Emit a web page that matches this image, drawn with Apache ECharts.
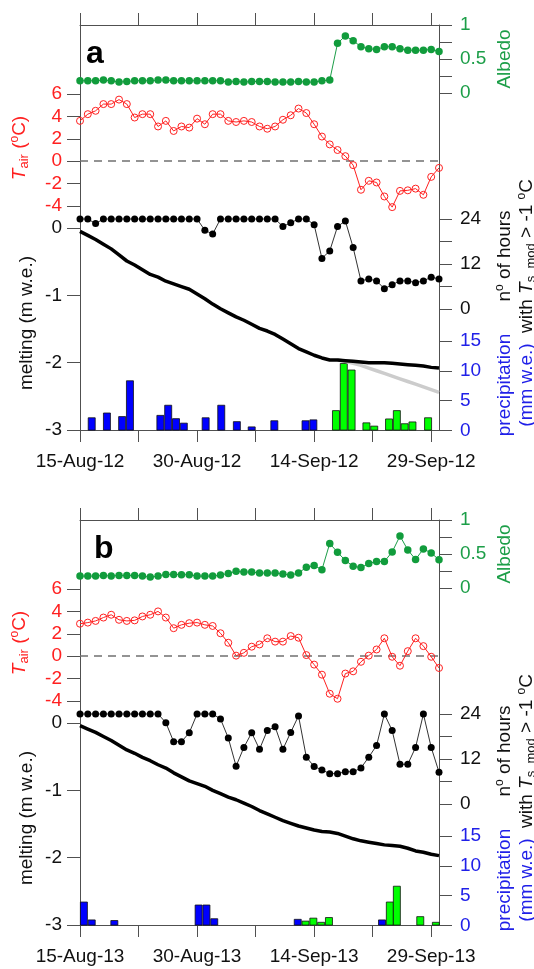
<!DOCTYPE html>
<html>
<head>
<meta charset="utf-8">
<script src="https://cdn.jsdelivr.net/npm/echarts@6/dist/echarts.min.js"></script>
<style>
  html, body { margin: 0; padding: 0; background: #fff; }
  #chart { width: 534px; height: 969px; }
</style>
</head>
<body>
<div id="chart"></div>
<script>
// x = days since 15 Aug (0..46)
var dateTicks = [0, 15, 30, 45];
var datesA = ['15-Aug-12', '30-Aug-12', '14-Sep-12', '29-Sep-12'];
var datesB = ['15-Aug-13', '30-Aug-13', '14-Sep-13', '29-Sep-13'];

// ---- 2012 (panel a) ----
var albedoA = [0.18,0.18,0.18,0.19,0.18,0.16,0.17,0.18,0.18,0.18,
               0.19,0.19,0.18,0.18,0.18,0.18,0.18,0.18,0.18,0.16,
               0.17,0.16,0.17,0.17,0.17,0.16,0.16,0.16,0.17,0.16,
               0.16,0.18,0.19,0.73,0.84,0.77,0.68,0.65,0.64,0.68,
               0.68,0.65,0.63,0.63,0.63,0.64,0.61];
var tairA = [3.6,4.2,4.5,5.1,5.1,5.5,5.1,3.9,4.2,4.2,
             3.1,3.6,2.7,3.1,3.0,3.8,3.3,4.2,4.2,3.6,
             3.5,3.6,3.5,3.1,2.9,3.1,3.7,4.1,4.7,4.3,
             3.3,2.2,1.5,1.0,0.45,-0.35,-2.55,-1.75,-1.9,-3.15,
             -4.1,-2.65,-2.6,-2.45,-3.0,-1.4,-0.6];
var hoursA = [24,24,22.8,24,24,24,24,24,24,24,
              24,24,24,24,24,24,21,20,24,24,
              24,24,24,24,24,24,22,23,24,24,
              22.5,13.5,15.5,22,23.5,16.4,7.5,8,7.5,5.4,
              6.5,7.5,7.5,7,7.5,8.5,8];
var meltA = [-0.05,-0.11,-0.17,-0.24,-0.31,-0.40,-0.49,-0.55,-0.62,-0.69,
             -0.73,-0.79,-0.83,-0.87,-0.91,-0.98,-1.05,-1.13,-1.20,-1.26,
             -1.32,-1.37,-1.43,-1.49,-1.53,-1.58,-1.65,-1.72,-1.79,-1.84,
             -1.89,-1.93,-1.96,-1.96,-1.97,-1.98,-1.99,-2.00,-2.00,-2.00,
             -2.01,-2.02,-2.03,-2.04,-2.05,-2.07,-2.08];
var meltAltA = [null,null,null,null,null,null,null,null,null,null,
                null,null,null,null,null,null,null,null,null,null,
                null,null,null,null,null,null,null,null,null,null,
                null,null,null,-1.96,-1.98,-2.01,-2.04,-2.08,-2.12,-2.16,
                -2.20,-2.24,-2.28,-2.32,-2.36,-2.40,-2.44];
var rainDaysA = [1.5,3.45,5.4,6.4,10.3,11.3,12.3,13.3,16.1,18.1,20.1,22.0,24.9,28.9,29.9];
var rainA     = [2.2,3.0,2.4,8.4,2.6,4.3,2.05,1.3,2.2,4.3,1.55,0.67,1.7,1.7,1.85];
var snowDaysA = [32.8,33.8,34.8,36.7,37.7,39.6,40.6,41.6,42.6,44.6];
var snowA     = [3.4,11.3,10.2,1.35,0.8,2.0,3.4,1.2,1.5,2.2];

// ---- 2013 (panel b) ----
var albedoB = [0.175,0.175,0.175,0.185,0.175,0.185,0.185,0.185,0.175,0.16,
               0.175,0.2,0.2,0.195,0.195,0.175,0.175,0.175,0.19,0.215,
               0.245,0.235,0.235,0.22,0.22,0.22,0.205,0.19,0.22,0.305,
               0.33,0.27,0.655,0.525,0.405,0.32,0.30,0.36,0.39,0.39,
               0.53,0.765,0.56,0.42,0.575,0.515,0.415];
var tairB = [2.9,3.0,3.15,3.45,3.7,3.25,3.15,3.2,3.55,3.7,
             4.0,3.45,2.5,2.8,2.95,3.0,2.8,2.7,2.05,1.2,
             0.05,0.3,0.85,1.05,1.6,1.3,1.3,1.8,1.65,0.1,
             -0.75,-1.65,-3.35,-3.8,-1.55,-1.35,-0.5,0.05,0.6,1.6,
             -0.05,-0.85,0.45,1.6,0.9,-0.05,-1.05];
var hoursB = [24,24,24,24,24,24,24,24,24,24,
              24,21.7,16.6,16.6,19,24,24,24,22.7,17.6,
              10.1,15.1,19,14.6,19.6,20.6,14.6,19.1,23.5,12.5,
              10,9.1,8.1,8.1,8.6,8.6,9.6,12.5,15.6,24,
              19.6,10.6,10.6,15.1,24,15.1,8.5];
var meltB = [-0.04,-0.09,-0.14,-0.20,-0.26,-0.33,-0.40,-0.45,-0.51,-0.56,
             -0.62,-0.67,-0.74,-0.80,-0.86,-0.90,-0.94,-1.00,-1.05,-1.10,
             -1.14,-1.19,-1.24,-1.30,-1.35,-1.40,-1.45,-1.49,-1.53,-1.56,
             -1.59,-1.61,-1.62,-1.64,-1.68,-1.72,-1.75,-1.77,-1.79,-1.81,
             -1.82,-1.83,-1.86,-1.90,-1.92,-1.95,-1.97];
var rainDaysB = [0.5,1.5,4.4,15.2,16.2,17.2,27.9,38.7];
var rainB     = [4.0,1.0,0.9,3.5,3.5,1.2,1.1,1.0];
var snowDaysB = [28.9,29.9,30.9,31.9,39.7,40.6,43.6,45.6];
var snowB     = [0.8,1.3,0.6,1.4,4.0,6.65,1.55,0.6];

var FONT = "'Liberation Sans', Arial, sans-serif";
var RED = '#ff2020', GREEN = '#1c9e48', BLUE = '#2020e8', AX = '#505050';
var FS = 19;

var grids = [], xAxes = [], yAxes = [], series = [], graphics = [];

function pairs(arr) {
  var out = [];
  arr.forEach(function (v, i) { out.push([i, v]); });
  return out;
}
function zip(xs, ys) {
  return xs.map(function (x, i) { return [x, ys[i]]; });
}

function addGrid(top, height) {
  grids.push({ left: 80, width: 359, top: top, height: height, outerBoundsMode: 'none' });
  var gi = grids.length - 1;
  xAxes.push({ gridIndex: gi, type: 'value', min: 0, max: 46, show: false });
  return gi;
}
function xOf(g) {
  for (var i = 0; i < xAxes.length; i++) if (xAxes[i].gridIndex === g) return i;
}

function valAxis(gi, pos, min, max, ticks, labels, color) {
  yAxes.push({
    gridIndex: gi, type: 'value', position: pos, min: min, max: max,
    axisLine: { show: false, onZero: false },
    axisTick: { show: true, inside: false, length: 13, customValues: ticks,
                lineStyle: { color: AX, width: 1 } },
    axisLabel: { show: true, customValues: labels, color: color, fontSize: FS,
                 fontFamily: FONT, margin: pos === 'left' ? 18 : 21,
                 formatter: function (v) { return String(v); } },
    splitLine: { show: false }
  });
  return yAxes.length - 1;
}

function dateAxis(gi, pos, dates) {
  return {
    gridIndex: gi, type: 'value', min: 0, max: 46, position: pos,
    axisLine: { show: true, onZero: false, lineStyle: { color: AX, width: 1 } },
    axisTick: { show: true, inside: false, length: 12, customValues: [0, 7.5, 15, 22.5, 30, 37.5, 45],
                lineStyle: { color: AX } },
    axisLabel: { show: pos === 'bottom', customValues: dateTicks, fontSize: FS, fontFamily: FONT,
                 color: '#111', margin: 22,
                 formatter: function (v) { return dates[dateTicks.indexOf(v)] || ''; } },
    splitLine: { show: false }
  };
}

function buildPanel(o, dates, albedo, tair, hours, melt, meltAlt, rDays, rain, sDays, snow, letter, letterX) {
  // frame box with date axes
  var fg = addGrid(25 + o, 405);
  xAxes[xAxes.length - 1] = dateAxis(fg, 'bottom', dates);
  xAxes.push(dateAxis(fg, 'top', dates));
  ['left', 'right'].forEach(function (p) {
    yAxes.push({ gridIndex: fg, type: 'value', position: p, min: 0, max: 1,
      axisLine: { show: true, onZero: false, lineStyle: { color: AX, width: 1 } },
      axisTick: { show: false }, axisLabel: { show: false }, splitLine: { show: false } });
  });

  var ga = addGrid(25 + o, 68);   // albedo (right)
  var ya = valAxis(ga, 'right', 0, 1, [0, 0.25, 0.5, 0.75, 1], [0, 0.5, 1], GREEN);
  var gt = addGrid(94 + o, 112);  // air temperature (left)
  var yt = valAxis(gt, 'left', -4, 6, [-4, -2, 0, 2, 4, 6], [-4, -2, 0, 2, 4, 6], RED);
  var gh = addGrid(219 + o, 90);  // hours (right)
  var yh = valAxis(gh, 'right', 0, 24, [0, 6, 12, 18, 24], [0, 12, 24], '#111');
  var gm = addGrid(228 + o, 202); // melting (left)
  var ym = valAxis(gm, 'left', -3, 0, [-3, -2, -1, 0], [-3, -2, -1, 0], '#111');
  var gp = addGrid(341 + o, 89.5); // precipitation (right)
  var yp = valAxis(gp, 'right', 0, 15, [0, 5, 10, 15], [0, 5, 10, 15], BLUE);

  series.push({
    type: 'bar', xAxisIndex: xOf(gp), yAxisIndex: yp, data: zip(rDays, rain),
    barWidth: 7.8, barGap: '-100%', z: 2,
    itemStyle: { color: '#0000ff', borderColor: '#111', borderWidth: 0.8 }
  });
  series.push({
    type: 'bar', xAxisIndex: xOf(gp), yAxisIndex: yp, data: zip(sDays, snow),
    barWidth: 7.8, barGap: '-100%', z: 2,
    itemStyle: { color: '#00ff00', borderColor: '#111', borderWidth: 0.8 }
  });
  if (meltAlt) {
    series.push({
      type: 'line', xAxisIndex: xOf(gm), yAxisIndex: ym, data: pairs(meltAlt),
      showSymbol: false, symbol: 'none', z: 3, clip: false,
      lineStyle: { color: '#cccccc', width: 3.5 }
    });
  }
  series.push({
    type: 'line', xAxisIndex: xOf(gm), yAxisIndex: ym, data: pairs(melt),
    showSymbol: false, symbol: 'none', z: 4, clip: false,
    lineStyle: { color: '#000', width: 3.5 }
  });
  series.push({
    type: 'line', xAxisIndex: xOf(gh), yAxisIndex: yh, data: pairs(hours),
    symbol: 'circle', symbolSize: 7, z: 5, clip: false,
    lineStyle: { color: '#333', width: 1 }, itemStyle: { color: '#000' }
  });
  series.push({
    type: 'line', xAxisIndex: xOf(gt), yAxisIndex: yt, data: pairs(tair),
    symbol: 'circle', symbolSize: 7, z: 5, clip: false,
    lineStyle: { color: RED, width: 1 },
    itemStyle: { color: 'rgba(255,255,255,0)', borderColor: RED, borderWidth: 1 },
    markLine: { silent: true, symbol: 'none', label: { show: false },
      lineStyle: { color: '#707070', type: [8, 6], width: 1.5 }, data: [{ yAxis: 0 }] }
  });
  series.push({
    type: 'line', xAxisIndex: xOf(ga), yAxisIndex: ya, data: pairs(albedo),
    symbol: 'circle', symbolSize: 7.5, z: 5, clip: false,
    lineStyle: { color: GREEN, width: 1 }, itemStyle: { color: '#119c3c' }
  });

  // panel letter
  graphics.push({ type: 'text', x: letterX, y: 38 + o,
    style: { text: letter, font: 'bold 32px ' + FONT, fill: '#000', verticalAlign: 'top' } });

  // axis titles (rotated)
  function rtext(x, y, text, rich, color) {
    graphics.push({ type: 'text', x: x, y: y, rotation: Math.PI / 2,
      style: { text: text, rich: rich, fill: color, align: 'center', verticalAlign: 'middle',
               fontSize: FS, fontFamily: FONT, lineHeight: 22 } });
  }
  function richSet(color) {
    return {
      n: { fontSize: FS, fontFamily: FONT, fill: color, color: color },
      i: { fontSize: FS, fontFamily: FONT, fontStyle: 'italic', fill: color, color: color },
      sub: { fontSize: 13, fontFamily: FONT, fill: color, color: color, verticalAlign: 'bottom' },
      sup: { fontSize: 12, fontFamily: FONT, fill: color, color: color, verticalAlign: 'top' }
    };
  }
  rtext(20, 148 + o, '{i|T}{sub|air}{n| (}{sup|o}{n|C)}', richSet(RED), RED);
  rtext(27, 323 + o, '{n|melting (m w.e.)}', richSet('#111'), '#111');
  rtext(505, 59 + o, '{n|Albedo}', richSet(GREEN), GREEN);
  rtext(516, 256 + o, '{n|n}{sup|o}{n| of hours}\n{n|with }{i|T}{sub|s  mod}{n| > -1 }{sup|o}{n|C}',
        richSet('#111'), '#111');
  rtext(516, 385 + o, '{n|precipitation}\n{n|(mm w.e.)}', richSet(BLUE), BLUE);
}

buildPanel(0, datesA, albedoA, tairA, hoursA, meltA, meltAltA, rainDaysA, rainA, snowDaysA, snowA, 'a', 86);
buildPanel(495, datesB, albedoB, tairB, hoursB, meltB, null, rainDaysB, rainB, snowDaysB, snowB, 'b', 94);

var chart = echarts.init(document.getElementById('chart'), null, { renderer: 'canvas' });
chart.setOption({
  animation: false,
  backgroundColor: '#fff',
  grid: grids,
  xAxis: xAxes,
  yAxis: yAxes,
  series: series,
  graphic: graphics
});
</script>
</body>
</html>
